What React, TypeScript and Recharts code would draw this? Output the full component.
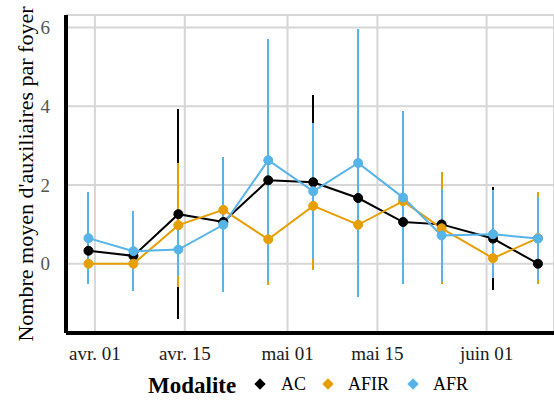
import React from 'react'
import { LineChart, Line, XAxis, YAxis, CartesianGrid, ErrorBar } from 'recharts'

// days counted from 1 April
const days = [-1, 6, 13, 20, 27, 34, 41, 48, 54, 62, 69]

const acMean = [0.33, 0.2, 1.26, 1.06, 2.12, 2.07, 1.67, 1.06, 1.0, 0.64, 0]
const acErr = [0.8, 0.5, 2.66, 1.2, 2.0, 2.23, 1.8, 1.2, 0.8, 1.32, 0]

const afirMean = [0, 0, 0.98, 1.37, 0.62, 1.47, 0.99, 1.59, 0.9, 0.14, 0.65]
const afirErr = [0, 0, 1.57, 1.2, 1.15, 1.62, 1.5, 1.5, 1.42, 0.4, 1.16]

const afrMean = [0.65, 0.32, 0.36, 0.99, 2.63, 1.84, 2.56, 1.68, 0.72, 0.75, 0.64]
const afrErr = [1.16, 1.02, 0.67, 1.72, 3.08, 1.73, 3.4, 2.2, 1.19, 1.12, 1.06]

const xTicks = [0, 14, 30, 44, 61]
const xTickLabels = ['avr. 01', 'avr. 15', 'mai 01', 'mai 15', 'juin 01']
const yTicks = [0, 2, 4, 6]

const seriesNames = ['AC', 'AFIR', 'AFR']
const seriesColors = ['#000000', '#E69F00', '#56B4E9']

const data = days.map((d, i) => ({
  day: d,
  ac: acMean[i],
  acErr: acErr[i],
  afir: afirMean[i],
  afirErr: afirErr[i],
  afr: afrMean[i],
  afrErr: afrErr[i],
}))

const font = "'Liberation Serif', 'DejaVu Serif', serif"

export default function App() {
  const keys = ['ac', 'afir', 'afr']
  return (
    <div style={{ position: 'absolute', left: 0, top: 0, width: 554, height: 401, fontFamily: font }}>
      <LineChart
        width={554}
        height={401}
        data={data}
        margin={{ top: 15, right: 0, bottom: 38, left: 0 }}
        style={{ fontFamily: font }}
      >
        <CartesianGrid stroke="#d6d6d6" strokeWidth={2} />
        <XAxis
          dataKey="day"
          type="number"
          domain={[-4.5, 71.5]}
          allowDataOverflow
          ticks={xTicks}
          tickFormatter={(v: number) => xTickLabels[xTicks.indexOf(v)] ?? ''}
          tickLine={false}
          tickMargin={8}
          height={30}
          axisLine={{ stroke: '#000', strokeWidth: 4 }}
          tick={{ fill: '#1a1a1a', fontSize: 19, fontFamily: font }}
        />
        <YAxis
          type="number"
          domain={[-1.76, 6.32]}
          allowDataOverflow
          ticks={yTicks}
          width={66}
          tickLine={false}
          tickMargin={10}
          axisLine={{ stroke: '#000', strokeWidth: 4 }}
          tick={{ fill: '#555', fontSize: 19, fontFamily: font }}
          label={{
            value: "Nombre moyen d'auxiliaires par foyer",
            angle: -90,
            position: 'insideLeft',
            offset: 0,
            dx: 25,
            style: { textAnchor: 'middle', fill: '#000', fontSize: 22, fontFamily: font },
          }}
        />
        {keys.map((k, i) => (
          <Line
            key={k}
            dataKey={k}
            name={seriesNames[i]}
            stroke={seriesColors[i]}
            strokeWidth={2}
            dot={{ r: 4.5, fill: seriesColors[i], stroke: seriesColors[i], strokeWidth: 1 }}
            isAnimationActive={false}
          >
            <ErrorBar
              dataKey={k + 'Err'}
              width={0}
              stroke={seriesColors[i]}
              strokeWidth={2}
              direction="y"
              shapeRendering="crispEdges"
              isAnimationActive={false}
            />
          </Line>
        ))}
      </LineChart>
      <div style={{ position: 'absolute', left: 148, top: 373, fontSize: 23, fontWeight: 'bold', color: '#000' }}>
        Modalite
      </div>
      {seriesNames.map((n, i) => {
        const dx = [260, 328, 413][i]
        const tx = [281, 348, 433][i]
        return (
          <React.Fragment key={n}>
            <div
              style={{
                position: 'absolute',
                left: dx - 4,
                top: 380,
                width: 8,
                height: 8,
                background: seriesColors[i],
                transform: 'rotate(45deg)',
              }}
            />
            <div style={{ position: 'absolute', left: tx, top: 374, fontSize: 18, color: '#000' }}>{n}</div>
          </React.Fragment>
        )
      })}
    </div>
  )
}
